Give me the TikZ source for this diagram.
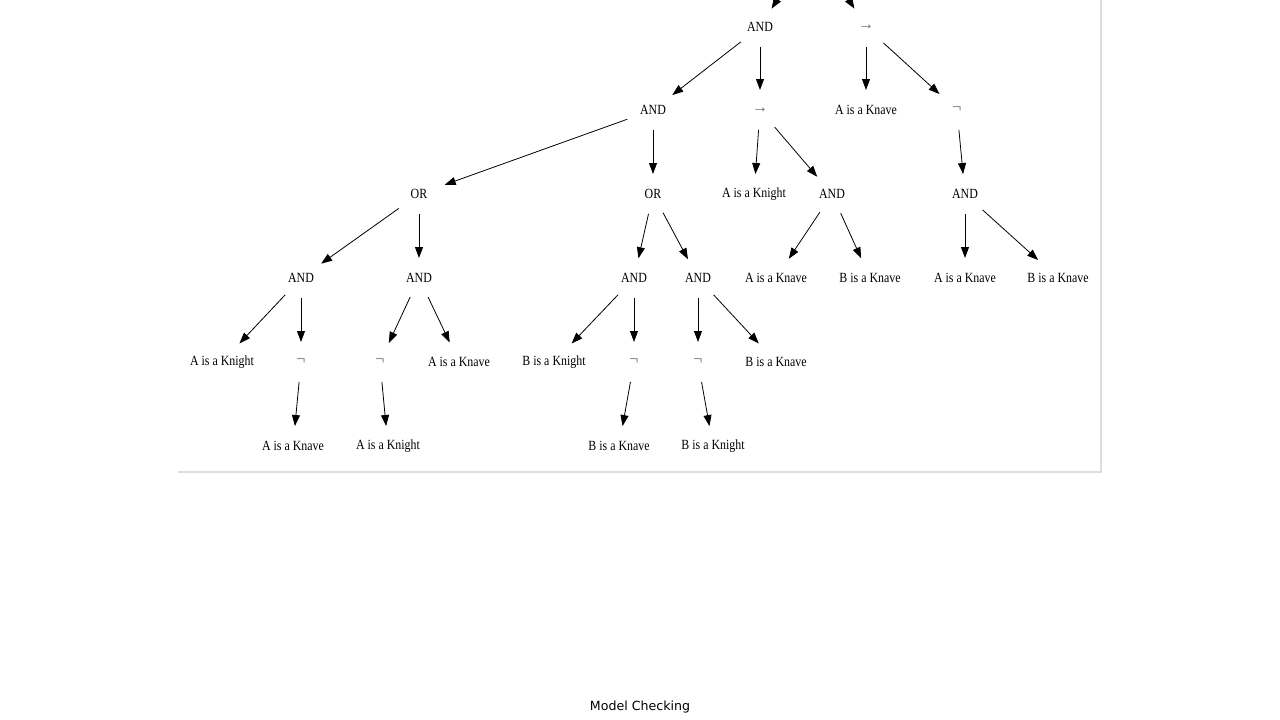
\documentclass[tikz,border=0pt]{standalone}
\usepackage{fontspec}
\setsansfont{DejaVu Sans}
\newfontfamily\treefont[FakeStretch=0.85]{Liberation Serif}
\usetikzlibrary{arrows.meta, shapes.geometric}
\tikzset{
  treetext/.style = {font=\treefont\fontsize{14}{16}\selectfont},
  framestroke/.style = {draw=black!13, line width=1.2pt},
}

\begin{document}
\begin{tikzpicture}[
    x=1pt, y=-1pt,
    >={Triangle[length=11pt, width=8pt]},
    op/.style  ={ellipse, treetext, inner sep=0pt, outer sep=2pt,
                 minimum width=54pt, minimum height=36pt},
    sym/.style ={op, text=black!60, font=\fontspec{Liberation Serif}\fontsize{16}{18}\selectfont},
    flow/.style={->, line width=0.8pt, draw=black}
  ]
  \useasboundingbox (0,0) rectangle (1280,720);
  \clip (0,0) rectangle (1280,720);

  %% --- Frame of the embedded figure ----------------------------------
  \draw[framestroke] (178,472) -- (1101,472) -- (1101,0);

  %% --- Level 0 (parent sits above the visible area) ------------------
  \coordinate (up) at (813,-57);
  \node[op]  (and1) at (760,27) {AND};
  \node[sym] (imp1) at (866,27) {→};

  %% --- Level 1 -------------------------------------------------------
  \node[op]  (and2) at (653,110) {AND};
  \node[sym] (imp2) at (760,110) {→};
  \node[op]  (akv1) at (866,110) {A is a Knave};
  \node[sym] (neg1) at (957,110) {¬};

  %% --- Level 2 -------------------------------------------------------
  \node[op] (or1)  at (419,194) {OR};
  \node[op] (or2)  at (653,194) {OR};
  \node[op] (akn1) at (754,194) {A is a Knight};
  \node[op] (and3) at (832,194) {AND};
  \node[op] (and4) at (965,194) {AND};

  %% --- Level 3 -------------------------------------------------------
  \node[op] (and5) at (301,278) {AND};
  \node[op] (and6) at (419,278) {AND};
  \node[op] (and7) at (634,278) {AND};
  \node[op] (and8) at (698,278) {AND};
  \node[op] (akv2) at (776,278) {A is a Knave};
  \node[op] (bkv1) at (870,278) {B is a Knave};
  \node[op] (akv3) at (965,278) {A is a Knave};
  \node[op] (bkv2) at (1058,278) {B is a Knave};

  %% --- Level 4 -------------------------------------------------------
  \node[op]  (akn2) at (222,362) {A is a Knight};
  \node[sym] (neg2) at (301,362) {¬};
  \node[sym] (neg3) at (380,362) {¬};
  \node[op]  (akv4) at (459,362) {A is a Knave};
  \node[op]  (bkn1) at (554,362) {B is a Knight};
  \node[sym] (neg4) at (634,362) {¬};
  \node[sym] (neg5) at (698,362) {¬};
  \node[op]  (bkv3) at (776,362) {B is a Knave};

  %% --- Level 5 -------------------------------------------------------
  \node[op] (akv5) at (293,446) {A is a Knave};
  \node[op] (akn3) at (388,446) {A is a Knight};
  \node[op] (bkv4) at (619,446) {B is a Knave};
  \node[op] (bkn2) at (713,446) {B is a Knight};

  %% --- Edges ---------------------------------------------------------
  \draw[flow] (up) -- (and1);
  \draw[flow] (up) -- (imp1);
  \foreach \a/\b in {and1/and2, and1/imp2, imp1/akv1, imp1/neg1,
                     and2/or1, and2/or2, imp2/akn1, imp2/and3, neg1/and4,
                     or1/and5, or1/and6, or2/and7, or2/and8,
                     and3/akv2, and3/bkv1, and4/akv3, and4/bkv2,
                     and5/akn2, and5/neg2, and6/neg3, and6/akv4,
                     and7/bkn1, and7/neg4, and8/neg5, and8/bkv3,
                     neg2/akv5, neg3/akn3, neg4/bkv4, neg5/bkn2}
      \draw[flow] (\a) -- (\b);

  %% --- Caption -------------------------------------------------------
  \node[font=\sffamily\fontsize{12.6}{15}\selectfont] (caption) at (640,707)
      {Model Checking};
\end{tikzpicture}
\end{document}
